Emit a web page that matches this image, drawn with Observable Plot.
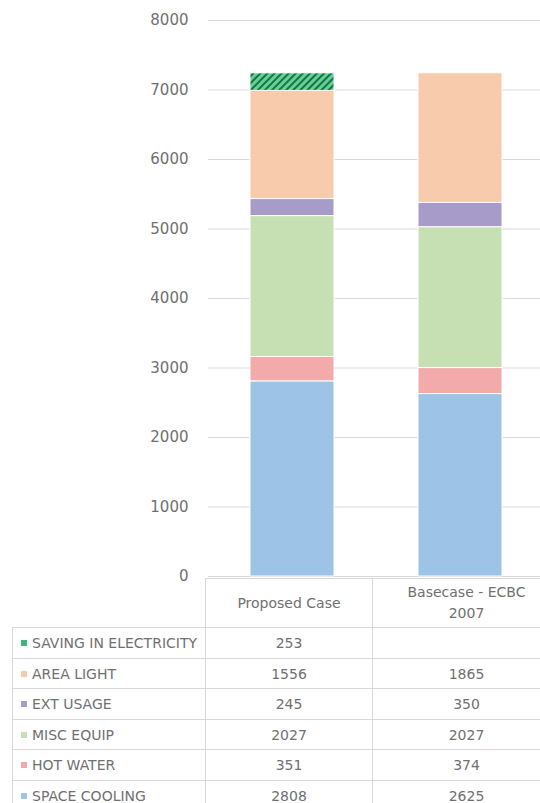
<!DOCTYPE html>
<html>
<head>
<meta charset="utf-8">
<script src="https://cdn.jsdelivr.net/npm/d3@7"></script>
<script src="https://cdn.jsdelivr.net/npm/@observablehq/plot@0.6"></script>
<style>
  html, body { margin: 0; padding: 0; background: #fff; }
  #wrap { position: relative; width: 540px; height: 803px; overflow: hidden; font-family: "DejaVu Sans", sans-serif; color: #707070; }
  #wrap svg { display: block; position: absolute; left: 0; top: 0; }
  .cell { position: absolute; box-sizing: border-box; border-top: 1px solid #d9d9d9; border-left: 1px solid #d9d9d9; font-size: 14px; display: flex; align-items: center; white-space: nowrap; background: #fff; }
  .num { justify-content: center; }
  .hdr { justify-content: center; text-align: center; white-space: normal; line-height: 21px; }
  .lab { padding-left: 8px; }
  .key { display: inline-block; width: 6px; height: 6px; margin-right: 5px; }
</style>
</head>
<body>
<div id="wrap"></div>
<script>
// ---- data ----
const categories = ["Proposed Case", "Basecase - ECBC 2007"];
const series = ["SPACE COOLING", "HOT WATER", "MISC EQUIP", "EXT USAGE", "AREA LIGHT", "SAVING IN ELECTRICITY"];
const proposedValues = [2808, 351, 2027, 245, 1556, 253];
const basecaseValues = [2625, 374, 2027, 350, 1865, null];
const yTicks = [0, 1000, 2000, 3000, 4000, 5000, 6000, 7000, 8000];

// ---- styles ----
const seriesColors = ["#9dc3e6", "#f2aaaa", "#c6e0b4", "#a79bca", "#f8cbad", "url(#hatch)"];
const keyColors = ["#9dc3e6", "#f2aaaa", "#c6e0b4", "#a79bca", "#f8cbad", "#3fb877"];

const valuesByCategory = [proposedValues, basecaseValues];
const data = [];
categories.forEach((c, i) => {
  series.forEach((s, j) => {
    const v = valuesByCategory[i][j];
    if (v != null) data.push({category: c, series: s, value: v});
  });
});

const plot = Plot.plot({
  width: 540,
  height: 590,
  marginLeft: 208,
  marginRight: 0,
  marginTop: 20,
  marginBottom: 14,
  style: {fontFamily: "DejaVu Sans, sans-serif", fontSize: "15px", color: "#707070", background: "transparent"},
  x: {domain: categories, range: [208, 544], paddingInner: 0.5, paddingOuter: 0.25, axis: null},
  y: {domain: [0, 8000], label: null},
  color: {domain: series, range: seriesColors},
  marks: [
    Plot.gridY(yTicks, {stroke: "#d9d9d9", strokeOpacity: 1, strokeWidth: 1}),
    Plot.axisY(yTicks, {tickSize: 0, tickPadding: 20, tickFormat: d => String(d), label: null, fill: "#707070"}),
    Plot.barY(data, {x: "category", y: "value", fill: "series", stroke: "#fff", strokeWidth: 1})
  ]
});

// hatch pattern for the savings segment
const defs = d3.select(plot).insert("defs", ":first-child");
const pat = defs.append("pattern")
  .attr("id", "hatch")
  .attr("patternUnits", "userSpaceOnUse")
  .attr("width", 5).attr("height", 5)
  .attr("patternTransform", "rotate(45)");
pat.append("rect").attr("width", 5).attr("height", 5).attr("fill", "#5fd396");
pat.append("rect").attr("width", 2).attr("height", 5).attr("fill", "#1f6e44");

const wrap = document.getElementById("wrap");
wrap.appendChild(plot);

// ---- data table below the chart ----
const colX = [12, 205, 372, 560];
const headerTop = 578, headerH = 49, rowH = 30.5;
const tableRows = series.slice().reverse();

categories.forEach((c, i) => {
  const d = document.createElement("div");
  d.className = "cell hdr";
  d.style.left = colX[i + 1] + "px";
  d.style.top = headerTop + "px";
  d.style.width = (colX[i + 2] - colX[i + 1]) + "px";
  d.style.height = headerH + "px";
  const inner = document.createElement("div");
  inner.style.width = "130px";
  inner.textContent = c;
  d.appendChild(inner);
  wrap.appendChild(d);
});

tableRows.forEach((s, r) => {
  const j = series.indexOf(s);
  const top = headerTop + headerH + r * rowH;
  const lab = document.createElement("div");
  lab.className = "cell lab";
  lab.style.left = colX[0] + "px";
  lab.style.top = top + "px";
  lab.style.width = (colX[1] - colX[0]) + "px";
  lab.style.height = Math.ceil(rowH) + "px";
  const key = document.createElement("span");
  key.className = "key";
  key.style.background = keyColors[j];
  lab.appendChild(key);
  lab.appendChild(document.createTextNode(s));
  wrap.appendChild(lab);
  categories.forEach((c, i) => {
    const v = valuesByCategory[i][j];
    const d = document.createElement("div");
    d.className = "cell num";
    d.style.left = colX[i + 1] + "px";
    d.style.top = top + "px";
    d.style.width = (colX[i + 2] - colX[i + 1]) + "px";
    d.style.height = Math.ceil(rowH) + "px";
    d.textContent = v == null ? "" : String(v);
    wrap.appendChild(d);
  });
});
</script>
</body>
</html>
